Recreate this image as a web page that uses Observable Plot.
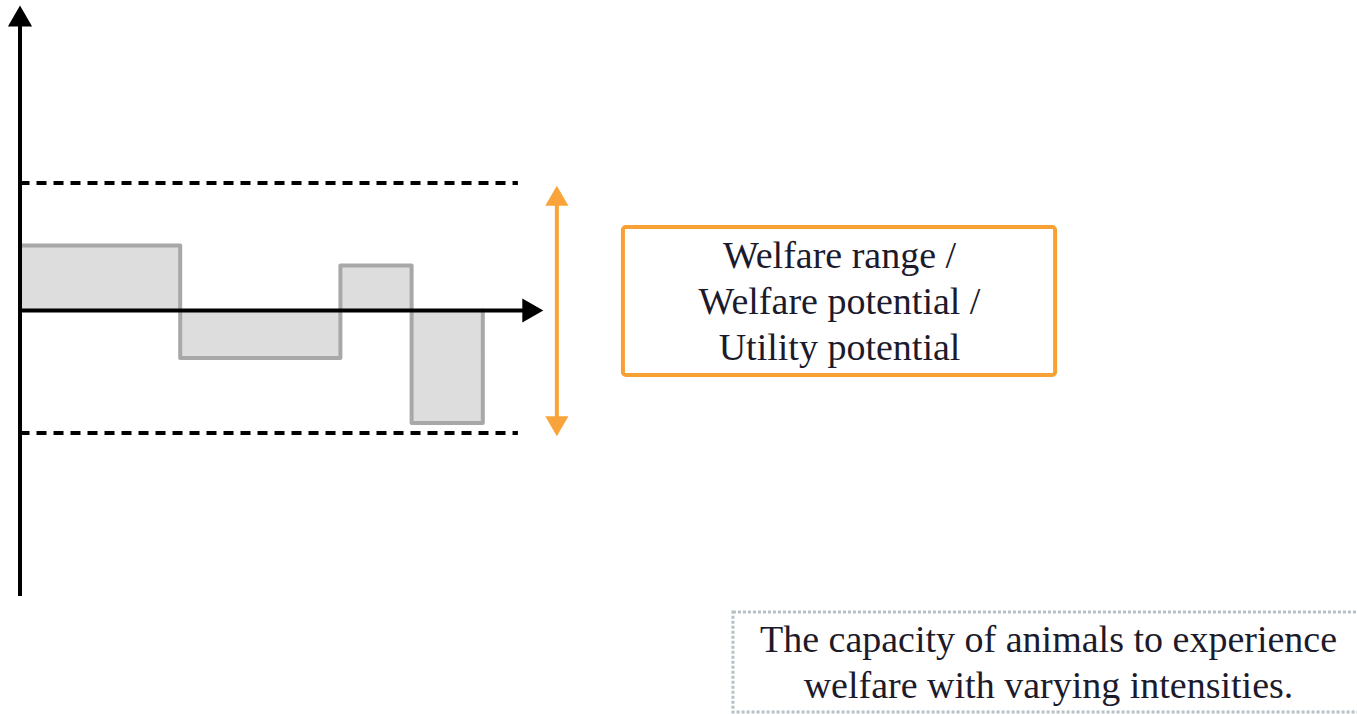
<!DOCTYPE html>
<html>
<head>
<meta charset="utf-8">
<script src="https://cdn.jsdelivr.net/npm/d3@7"></script>
<script src="https://cdn.jsdelivr.net/npm/@observablehq/plot@0.6"></script>
<style>
  html, body { margin: 0; padding: 0; background: #fff; }
  #chart svg { display: block; }
</style>
</head>
<body>
<div id="chart"></div>
<script>
// ---- Data (conceptual units) ----
const segmentStarts = [0, 4.5, 9, 11];
const segmentEnds   = [4.5, 9, 11, 13];
const welfareValues = [2.6, -1.9, 1.8, -4.5];
const rangeBounds   = [5.1, -4.9];           // upper / lower welfare capacity
const boxLabel      = ["Welfare range /", "Welfare potential /", "Utility potential"];
const captionLines  = ["The capacity of animals to experience", "welfare with varying intensities."];

// step series built from the arrays
const steps = segmentStarts.map((s, i) => ({t: s, v: welfareValues[i]}));
steps.push({t: segmentEnds[segmentEnds.length - 1], v: 0});

// ---- Layout (data-space anchors for the annotations) ----
const xDomain = [-0.548, 37.57];
const yDomain = [-16.16, 12.4];
const yAxisSpan = [-11.44, 12.2];
const xAxisEnd = 14.7;
const dashEnd = 14;
const rangeArrowX = 15.08;
const labelBox = {x1: 16.95, x2: 29.09, y1: -2.6, y2: 3.32, cx: 23.02, cy: 0.46};
const captionBox = {x1: 20.04, x2: 37.9, y1: -16.08, y2: -12.08, cx: 28.89, cy: -13.98};

const orange = "#f9a43a";
const serif = "'Liberation Serif', 'DejaVu Serif', serif";

const chart = Plot.plot({
  width: 1357,
  height: 714,
  margin: 0,
  style: {background: "white", overflow: "visible"},
  x: {domain: xDomain, axis: null},
  y: {domain: yDomain, axis: null},
  marks: [
    // welfare step area
    Plot.areaY(steps, {x: "t", y: "v", curve: "step-after", fill: "#dddddd"}),
    Plot.line(steps, {x: "t", y: "v", curve: "step-after", stroke: "#a8a8a8", strokeWidth: 4}),
    // dashed bounds
    Plot.ruleY(rangeBounds, {x1: 0, x2: dashEnd, stroke: "black", strokeWidth: 4, strokeDasharray: "10,7"}),
    // x axis
    Plot.ruleY([0], {x1: 0, x2: xAxisEnd - 0.4, stroke: "black", strokeWidth: 4}),
    Plot.dot([0], {x: () => xAxisEnd, y: 0, symbol: "triangle", r: 9, rotate: 90, dx: -14, fill: "black", stroke: "none"}),
    // y axis
    Plot.ruleX([0], {y1: yAxisSpan[0], y2: yAxisSpan[1] - 0.5, stroke: "black", strokeWidth: 4}),
    Plot.dot([0], {x: 0, y: () => yAxisSpan[1], symbol: "triangle", r: 9, dy: 14, fill: "black", stroke: "none"}),
    // orange double arrow
    Plot.ruleX([rangeArrowX], {y1: rangeBounds[0] - 0.8, y2: rangeBounds[1] + 0.6, stroke: orange, strokeWidth: 4}),
    Plot.dot([rangeBounds[0]], {x: () => rangeArrowX, y: d => d, symbol: "triangle", r: 8.6, dy: 16, fill: orange, stroke: "none"}),
    Plot.dot([rangeBounds[1]], {x: () => rangeArrowX, y: d => d, symbol: "triangle", r: 8.6, rotate: 180, dy: -10, fill: orange, stroke: "none"}),
    // label box
    Plot.rect([labelBox], {x1: "x1", x2: "x2", y1: "y1", y2: "y2", fill: "white", stroke: "#f7a033", strokeWidth: 4, rx: 3}),
    Plot.text([boxLabel.join("\n")], {x: () => labelBox.cx, y: () => labelBox.cy, text: d => d, fontSize: 38, lineHeight: 1.21, fontFamily: serif, fill: "#1c1a2b", textAnchor: "middle"}),
    // caption box
    Plot.rect([captionBox], {x1: "x1", x2: "x2", y1: "y1", y2: "y2", fill: "white", stroke: "#b6c0c5", strokeWidth: 3, strokeDasharray: "3,2"}),
    Plot.text([captionLines.join("\n")], {x: () => captionBox.cx, y: () => captionBox.cy, text: d => d, fontSize: 38, lineHeight: 1.21, fontFamily: serif, fill: "#1c1a2b", textAnchor: "middle"})
  ]
});
document.getElementById("chart").appendChild(chart);
</script>
</body>
</html>
